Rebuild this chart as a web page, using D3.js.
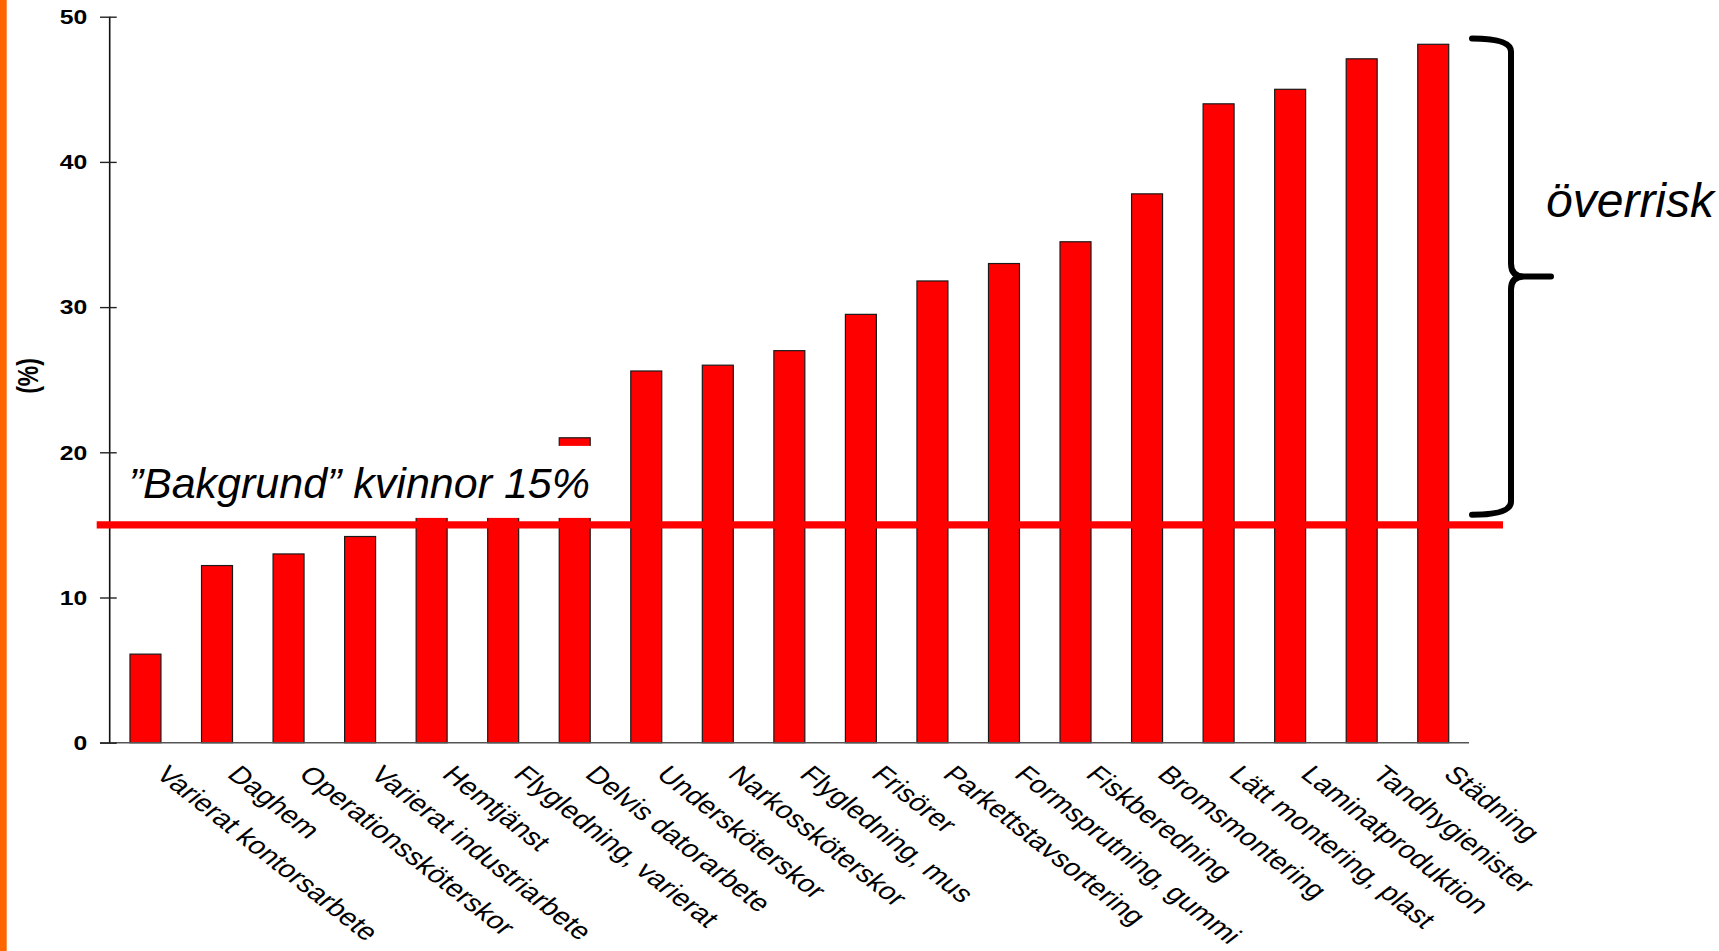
<!DOCTYPE html>
<html lang="sv">
<head>
<meta charset="utf-8">
<title>Andel (%) per yrkesgrupp</title>
<script src="https://cdn.jsdelivr.net/npm/d3@7"></script>
<style>
  html, body { margin: 0; padding: 0; background: #ffffff; }
  svg { display: block; }
  text { font-family: "Liberation Sans", Arial, Helvetica, sans-serif; }
</style>
</head>
<body>
<svg id="chart" width="1719" height="951"></svg>
<script>
// Yrkesgrupper, sorterade efter andel
const categories = [
  "Varierat kontorsarbete",
  "Daghem",
  "Operationssköterskor",
  "Varierat industriarbete",
  "Hemtjänst",
  "Flygledning, varierat",
  "Delvis datorarbete",
  "Undersköterskor",
  "Narkossköterskor",
  "Flygledning, mus",
  "Frisörer",
  "Parkettstavsortering",
  "Formsprutning, gummi",
  "Fiskberedning",
  "Bromsmontering",
  "Lätt montering, plast",
  "Laminatproduktion",
  "Tandhygienister",
  "Städning"
];

// Andel (%) per grupp
const values = [6.1, 12.2, 13.0, 14.2, 16.5, 18.0, 21.0, 25.6, 26.0, 27.0, 29.5, 31.8, 33.0, 34.5, 37.8, 44.0, 45.0, 47.1, 48.1];

const yTicks = [0, 10, 20, 30, 40, 50];
const yDomain = [0, 50];
const yAxisLabel = "(%)";

// Referensnivå för kvinnor
const backgroundLevel = 15;
const backgroundLabel = `”Bakgrund” kvinnor ${backgroundLevel}%`;

// Klammer som markerar överrisken
const overriskLabel = "överrisk";
const braceRange = [15.7, 48.5];

const svg = d3.select("#chart");
const W = 1719, H = 951;
const margin = { left: 109.7, right: 250, top: 16.7, bottom: 208.3 };
const stretch = 1.27; // horizontal widening of the chart's own lettering

svg.append("rect").attr("width", W).attr("height", H).attr("fill", "#ffffff");

// Orange list längs vänsterkanten
svg.append("rect").attr("x", 0).attr("y", 0).attr("width", 6.7).attr("height", H).attr("fill", "#ff6600");

const x = d3.scaleBand()
  .domain(categories)
  .range([margin.left, W - margin.right])
  .paddingInner(0.567)
  .paddingOuter(0.2835);

const y = d3.scaleLinear()
  .domain(yDomain)
  .range([H - margin.bottom, margin.top]);

// Staplar
svg.append("g")
  .selectAll("rect")
  .data(values)
  .join("rect")
  .attr("x", (d, i) => x(categories[i]))
  .attr("y", d => y(d))
  .attr("width", x.bandwidth())
  .attr("height", d => y(0) - y(d))
  .attr("fill", "#ff0000")
  .attr("stroke", "#1a1a1a")
  .attr("stroke-width", 1.2);

// X-axelns baslinje
svg.append("line")
  .attr("x1", margin.left - 9.7).attr("x2", x.range()[1])
  .attr("y1", y(0)).attr("y2", y(0))
  .attr("stroke", "#555555").attr("stroke-width", 1.6);

// Y-axel
const yAxis = d3.axisLeft(y).tickValues(yTicks).tickFormat(d3.format("d")).tickSize(8);
const yG = svg.append("g")
  .attr("transform", `translate(${margin.left},0)`)
  .call(yAxis);
yG.select(".domain")
  .attr("d", `M0,${y(yDomain[1])}V${y(yDomain[0])}`)
  .attr("stroke", "#111").attr("stroke-width", 1.6);
yG.selectAll(".tick line")
  .attr("x1", -9.7).attr("x2", 7)
  .attr("stroke", "#222").attr("stroke-width", 1.4);
yG.selectAll(".tick text")
  .attr("x", 0)
  .attr("dy", "0.35em")
  .attr("transform", `translate(-22.4,0) scale(${stretch},1)`)
  .attr("text-anchor", "end")
  .attr("font-family", "'Liberation Sans', Arial, sans-serif")
  .attr("font-size", 19.5)
  .attr("font-weight", "bold")
  .attr("fill", "#000");

// Y-axelns rubrik
svg.append("text")
  .attr("transform", `translate(28,376) scale(${stretch},1) rotate(-90)`)
  .attr("text-anchor", "middle")
  .attr("dy", "0.35em")
  .attr("font-size", 23)
  .attr("font-weight", "bold")
  .attr("fill", "#000")
  .text(yAxisLabel);

// Kategorietiketter, lutande
svg.append("g")
  .selectAll("text")
  .data(categories)
  .join("text")
  .attr("transform", d => `translate(${x(d) + x.bandwidth() / 2 + 9},${y(0) + 33}) scale(${stretch},1) rotate(45)`)
  .attr("text-anchor", "start")
  .attr("font-size", 24)
  .attr("fill", "#000")
  .text(d => d);

// Textruta för referensnivån (vit bakgrund)
const by = y(backgroundLevel);
svg.append("rect")
  .attr("x", margin.left + 10)
  .attr("y", by - 79)
  .attr("width", 482)
  .attr("height", 72)
  .attr("fill", "#ffffff");

svg.append("text")
  .attr("x", margin.left + 19)
  .attr("y", by - 27)
  .attr("font-size", 43)
  .attr("font-style", "italic")
  .attr("fill", "#000")
  .text(backgroundLabel);

// Referenslinje
svg.append("line")
  .attr("x1", margin.left - 13).attr("x2", x.range()[1] + 34)
  .attr("y1", by).attr("y2", by)
  .attr("stroke", "#ff0000").attr("stroke-width", 7.3);

// Klammer
const bx = x.range()[1] + 42;
const bTop = y(braceRange[1]);
const bBot = y(braceRange[0]);
const bMid = (bTop + bBot) / 2;
const arm = 39, r = 13, tip = 40;
const bracePath = [
  `M${bx - arm},${bTop}`,
  `Q${bx},${bTop} ${bx},${bTop + r}`,
  `L${bx},${bMid - r}`,
  `Q${bx},${bMid} ${bx + r},${bMid}`,
  `L${bx + tip},${bMid}`,
  `M${bx + r},${bMid}`,
  `Q${bx},${bMid} ${bx},${bMid + r}`,
  `L${bx},${bBot - r}`,
  `Q${bx},${bBot} ${bx - arm},${bBot}`
].join(" ");
svg.append("path")
  .attr("d", bracePath)
  .attr("fill", "none")
  .attr("stroke", "#000")
  .attr("stroke-width", 6)
  .attr("stroke-linecap", "round")
  .attr("stroke-linejoin", "round");

svg.append("text")
  .attr("x", bx + 35)
  .attr("y", bMid - 60)
  .attr("font-size", 48)
  .attr("font-style", "italic")
  .attr("fill", "#000")
  .text(overriskLabel);
</script>
</body>
</html>
